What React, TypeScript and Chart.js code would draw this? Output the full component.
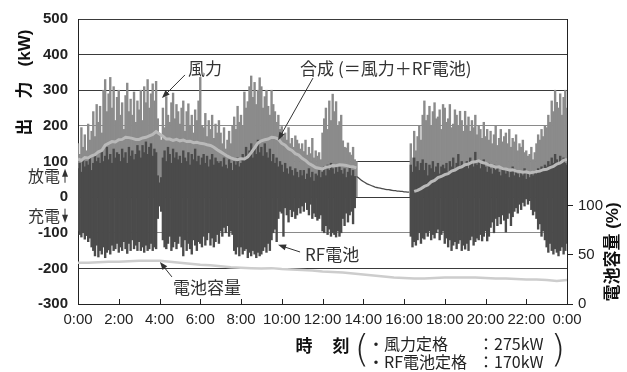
import React, { useEffect, useRef } from 'react';
import { Chart, registerables } from 'chart.js';

Chart.register(...registerables);

// ---- data -----------------------------------------------------------------
// Wind and battery are given as 5-minute peaks / ranges, the combined output
// every 10 minutes and the battery state of charge every 30 minutes.
// Times are minutes after 0:00.
const STEP_MIN = 5;
const COMBINED_STEP_MIN = 10;
const CAPACITY_STEP_MIN = 30;

// Wind output, 5-minute peaks (kW), 0:00 – 13:40
const windMorning: number[] = [
  150, 120, 195, 140, 175, 130, 205, 160, 185, 240, 170, 260,
  210, 255, 180, 300, 330, 240, 290, 336, 250, 310, 215, 280,
  300, 230, 265, 190, 285, 320, 240, 275, 230, 295, 210, 270,
  245, 300, 215, 310, 265, 330, 250, 290, 318, 270, 325, 220,
  175, 160, 250, 195, 282, 230, 210, 265, 292, 220, 260, 240,
  205, 250, 270, 185, 240, 262, 200, 230, 180, 245, 215, 270,
  336, 200, 195, 235, 170, 215, 190, 230, 165, 205, 180, 215,
  180, 150, 195, 135, 160, 185, 150, 200, 225, 190, 255, 210,
  230, 200, 295, 250, 268, 310, 340, 280, 322, 260, 300, 335,
  310, 250, 282, 300, 255, 230, 300, 260, 240, 210, 230, 190,
  198, 170, 180, 160, 195, 150, 165, 140, 172, 160, 150, 135,
  150, 128, 160, 118, 140, 122, 165, 110, 130, 115, 125, 105,
  180, 220, 250, 190, 270, 215, 289, 240, 268, 200, 212, 230,
  158, 140, 138, 152, 125, 118, 140, 105, 100,
];

// Wind output, 5-minute peaks (kW), 16:20 – 24:00
const EVENING_START = 16 * 60 + 20;
const windEvening: number[] = [
  150, 110, 185, 130, 170, 200, 160, 230,
  270, 215, 230, 255, 200, 240, 265, 220, 225, 245, 190, 260,
  250, 210, 220, 260, 195, 205, 245, 230, 200, 241, 215, 185,
  241, 200, 225, 185, 215, 195, 230, 175, 200, 190, 165, 210,
  170, 190, 160, 185, 150, 175, 200, 145, 165, 190, 155, 170,
  180, 150, 190, 140, 165, 155, 175, 130, 150, 140, 160, 125,
  130, 115, 120, 140, 105, 125, 150, 175, 160, 190, 170, 200,
  195, 230, 210, 270, 240, 300, 266, 250, 290, 230, 280, 300,
  250,
];

// RF battery output, 5-minute minimum / maximum (kW, + discharge), 0:00 – 13:35
const batteryLowMorning: number[] = [
  -95, -105, -112, -100, -118, -108, -125, -115, -140, -150, -165, -135,
  -168, -150, -160, -140, -170, -155, -148, -160, -135, -150, -145, -130,
  -155, -140, -150, -125, -145, -158, -130, -150, -120, -145, -135, -150,
  -125, -150, -140, -155, -135, -150, -145, -130, -150, -140, -145, -60,
  -25, -40, -120, -140, -145, -130, -110, -150, -140, -125, -145, -130,
  -110, -140, -165, -120, -150, -130, -145, -160, -120, -135, -150, -125,
  -130, -140, -110, -135, -120, -100, -135, -115, -140, -125, -105, -130,
  -95, -110, -85, -100, -80, -110, -95, -105, -150, -160, -140, -165,
  -140, -160, -150, -145, -170, -155, -165, -150, -160, -170, -155, -165,
  -160, -150, -140, -155, -130, -150, -120, -100, -90, -125, -60, -40,
  -45, -110, -30, -50, -70, -35, -55, -40, -60, -50, -30, -45,
  -25, -40, -15, -35, -50, -20, -60, -45, -55, -65, -60, -50,
  -95, -100, -80, -105, -90, -110, -100, -105, -112, -95, -110, -100,
  -60, -80, -45, -70, -50, -40, -75, -30,
];
const batteryHighMorning: number[] = [
  80, 95, 70, 105, 85, 100, 90, 110, 75, 95, 120, 100,
  110, 95, 130, 100, 115, 140, 105, 120, 95, 135, 110, 125,
  120, 100, 135, 110, 125, 95, 140, 115, 130, 105, 120, 145,
  130, 110, 145, 125, 155, 120, 140, 150, 115, 135, 125, 60,
  40, 55, 110, 130, 100, 140, 120, 95, 135, 110, 125, 105,
  115, 95, 130, 110, 100, 125, 90, 120, 105, 135, 100, 115,
  90, 110, 120, 95, 115, 85, 105, 120, 90, 110, 100, 95,
  100, 85, 110, 90, 80, 105, 95, 75, 100, 90, 110, 85,
  95, 120, 105, 140, 115, 130, 150, 110, 135, 120, 160, 125,
  140, 115, 150, 125, 110, 135, 100, 120, 95, 110, 85, 100,
  90, 70, 95, 80, 65, 85, 75, 60, 80, 70, 55, 75,
  60, 75, 50, 65, 80, 55, 70, 45, 65, 60, 75, 55,
  70, 85, 60, 90, 75, 95, 80, 65, 90, 70, 85, 75,
  65, 80, 55, 70, 85, 60, 75, 58,
];

// RF battery output while the turbine is stopped (kW), 13:40 – 16:15
const IDLE_START = 13 * 60 + 40;
const batteryIdle: number[] = [
  58, 55, 51, 47, 44, 41, 38, 36, 34, 32, 30, 28, 27, 26, 25, 24,
  23, 22, 21, 21, 20, 19, 18, 18, 17, 17, 16, 16, 15, 15, 14, 14,
];

// RF battery output, 5-minute minimum / maximum (kW), 16:20 – 24:00
const batteryLowEvening: number[] = [
  -110, -140, -125, -135, -120, -100, -130, -115,
  -118, -100, -110, -95, -120, -105, -115, -100, -90, -120, -105, -95,
  -130, -115, -140, -120, -150, -135, -125, -145, -130, -120, -150, -135,
  -146, -130, -150, -120, -110, -135, -125, -115, -120, -105, -123, -110,
  -95, -123, -110, -85, -70, -100, -60, -80, -55, -75, -50, -65,
  -98, -60, -45, -80, -55, -40, -30, -45, -20, -35, -15, -25,
  -5, -20, -10, -35, -50, -40, -60, -90, -75, -110, -95, -120,
  -140, -155, -130, -150, -160, -145, -155, -165, -150, -140, -160, -150,
  -130,
];
const batteryHighEvening: number[] = [
  90, 70, 110, 85, 100, 75, 95, 105,
  75, 95, 60, 90, 80, 100, 70, 85, 95, 65, 85, 90,
  80, 95, 70, 100, 85, 110, 75, 95, 120, 85, 100, 90,
  90, 100, 80, 110, 95, 85, 126, 90, 100, 80, 95, 105,
  85, 70, 95, 80, 65, 90, 75, 85, 70, 60, 80, 75,
  65, 80, 55, 70, 85, 60, 75, 65, 55, 70, 60, 80,
  50, 65, 55, 70, 60, 75, 65, 80, 70, 85, 75, 90,
  85, 100, 90, 110, 95, 120, 105, 95, 115, 100, 110, 95,
  90,
];

// Combined output = wind + RF battery (kW), 0:00 – 13:40
const combinedMorning: number[] = [
  107, 103, 111, 110, 116, 119,
  127, 131, 146, 151, 156, 155,
  161, 162, 168, 167, 165, 162,
  162, 166, 168, 172, 176, 184,
  177, 171, 163, 163, 159, 162,
  158, 160, 156, 157, 153, 154,
  151, 150, 147, 145, 140, 133,
  127, 121, 115, 110, 107, 105,
  108, 107, 113, 125, 138, 152,
  158, 161, 163, 168, 167, 163,
  151, 146, 136, 131, 122, 118,
  109, 103, 94, 89, 83, 81,
  79, 84, 85, 89, 88, 91,
  90, 89, 86, 85, 82,
];

// Combined output (kW), 16:30 – 24:00
const COMBINED_EVENING_START = 16 * 60 + 30;
const combinedEvening: number[] = [
  16, 19, 24,
  30, 34, 43, 47, 55, 58,
  63, 66, 73, 76, 82, 85,
  91, 93, 98, 99, 102, 97,
  95, 90, 88, 84, 85, 80,
  79, 76, 77, 73, 72, 70,
  71, 68, 70, 72, 73, 77,
  78, 83, 86, 93, 96, 103,
  106,
];

// Battery state of charge (%), 0:00 – 24:00
const capacity: number[] = [
  42, 42, 42.5, 43, 43, 43.5, 44, 44, 44, 43, 42, 41,
  40, 39.5, 38.5, 37.5, 37, 36.5, 36, 36.5, 35.5, 35, 34.5, 34,
  33, 32.5, 32, 31, 30, 29, 28, 27, 26.5, 26, 26, 26.5,
  27, 27, 27, 27, 26.5, 26, 26, 25.5, 25, 25, 24.5, 23.5,
  24.5,
];

const powerTicks = [-300, -200, -100, 0, 100, 200, 300, 400, 500];
const capacityTicks = [0, 50, 100];
const softGridValues = [200, -100];

// ---- helpers --------------------------------------------------------------
type Pt = { x: number; y: number | null | [number, number] };
const toPoints = (values: number[], start: number, step: number): Pt[] =>
  values.map((v, i) => ({ x: start + i * step, y: v }));
const toRanges = (lows: number[], highs: number[], start: number, step: number): Pt[] =>
  lows.map((lo, i) => ({ x: start + i * step, y: [lo, highs[i]] }));

const LATIN = "'Liberation Sans', 'Noto Sans CJK JP', sans-serif";
const JP = "'Noto Sans CJK JP', 'Liberation Sans', sans-serif";
const INK = '#222222';
const WIND_GREY = '#8b8b8b';
const BATTERY_GREY = '#4b4b4b';

function arrow(ctx: CanvasRenderingContext2D, x1: number, y1: number, x2: number, y2: number) {
  const ang = Math.atan2(y2 - y1, x2 - x1);
  const len = 8;
  const half = 3;
  ctx.beginPath();
  ctx.moveTo(x1, y1);
  ctx.lineTo(x2 - Math.cos(ang) * len * 0.7, y2 - Math.sin(ang) * len * 0.7);
  ctx.stroke();
  ctx.beginPath();
  ctx.moveTo(x2, y2);
  ctx.lineTo(x2 - Math.cos(ang) * len - Math.sin(ang) * half, y2 - Math.sin(ang) * len + Math.cos(ang) * half);
  ctx.lineTo(x2 - Math.cos(ang) * len + Math.sin(ang) * half, y2 - Math.sin(ang) * len - Math.cos(ang) * half);
  ctx.closePath();
  ctx.fill();
}

function rotatedText(ctx: CanvasRenderingContext2D, text: string, x: number, y: number, font: string) {
  ctx.save();
  ctx.translate(x, y);
  ctx.rotate(-Math.PI / 2);
  ctx.font = font;
  ctx.textAlign = 'center';
  ctx.textBaseline = 'middle';
  ctx.fillText(text, 0, 0);
  ctx.restore();
}

// Titles, callouts and the rating note drawn on top of the chart.
const decorations = {
  id: 'decorations',
  afterDraw(chart: any) {
    const { ctx, chartArea, scales } = chart;
    const px = (h: number) => scales.x.getPixelForValue(h * 60);
    const py = (v: number) => scales.y.getPixelForValue(v);
    ctx.save();
    ctx.fillStyle = INK;
    ctx.strokeStyle = INK;
    ctx.lineWidth = 1;

    // inward tick marks on the time axis
    for (let m = 120; m < 1440; m += 120) {
      const x = Math.round(scales.x.getPixelForValue(m)) + 0.5;
      ctx.beginPath();
      ctx.moveTo(x, chartArea.bottom);
      ctx.lineTo(x, chartArea.bottom - 5);
      ctx.stroke();
    }

    // axis titles
    ctx.fillStyle = '#111';
    const titleFont = `bold 17px ${LATIN}`;
    rotatedText(ctx, '出', 25, 127, titleFont);
    rotatedText(ctx, '力', 25, 90, titleFont);
    rotatedText(ctx, '(kW)', 25, 48, titleFont);
    rotatedText(ctx, '電池容量 (%)', 613, 252, titleFont);

    ctx.font = titleFont;
    ctx.textAlign = 'center';
    ctx.textBaseline = 'middle';
    ctx.fillText('時', 304, 347);
    ctx.fillText('刻', 341, 347);

    // discharge / charge markers beside the zero line
    ctx.fillStyle = '#333';
    ctx.strokeStyle = '#333';
    ctx.font = `16px ${JP}`;
    ctx.textAlign = 'right';
    ctx.fillText('放電', 60, py(60));
    ctx.fillText('充電', 60, py(-52));
    arrow(ctx, 65, py(60) + 7, 65, py(60) - 7);
    arrow(ctx, 65, py(-52) - 7, 65, py(-52) + 7);

    // callouts
    ctx.font = `17px ${JP}`;
    ctx.textAlign = 'left';
    const callouts: [string, number, number, number, number, number, number][] = [
      ['風力', 5.4, 362, 5.25, 343, 4.12, 278],
      ['合成 (＝風力＋RF電池)', 10.9, 360, 11.53, 334, 9.82, 160],
      ['RF電池', 11.14, -162, 10.9, -154, 9.82, -134],
      ['電池容量', 4.66, -255, 4.61, -224, 4.02, -182],
    ];
    for (const [text, lh, lv, fh, fv, th, tv] of callouts) {
      ctx.fillText(text, px(lh), py(lv));
      arrow(ctx, px(fh), py(fv), px(th), py(tv));
    }

    // rating note
    ctx.fillStyle = INK;
    ctx.font = `200 38px 'DejaVu Sans', ${JP}`;
    ctx.textAlign = 'center';
    ctx.fillText('(', 362, 351);
    ctx.fillText(')', 558, 351);
    ctx.font = `16px ${JP}`;
    ctx.textAlign = 'left';
    ctx.fillText('・風力定格', 368, 344);
    ctx.fillText('：275kW', 478, 344);
    ctx.fillText('・RF電池定格', 368, 362);
    ctx.fillText('：170kW', 478, 362);

    ctx.restore();
  },
};

export default function App() {
  const canvasRef = useRef<HTMLCanvasElement | null>(null);

  useEffect(() => {
    const canvas = canvasRef.current;
    if (!canvas) return;

    const bars = (label: string, data: Pt[], colour: string, order: number) => ({
      type: 'bar' as const,
      label,
      data: data as any,
      backgroundColor: colour,
      borderWidth: 0,
      barPercentage: 1,
      categoryPercentage: 1,
      grouped: false,
      inflateAmount: 0.35,
      order,
      yAxisID: 'y',
    });

    const combinedData: Pt[] = [
      ...toPoints(combinedMorning, 0, COMBINED_STEP_MIN),
      { x: 14 * 60, y: null },
      ...toPoints(combinedEvening, COMBINED_EVENING_START, COMBINED_STEP_MIN),
    ];

    const chart = new Chart(canvas, {
      type: 'line',
      data: {
        datasets: [
          bars('風力', toPoints(windMorning, 0, STEP_MIN), WIND_GREY, 6),
          bars('風力', toPoints(windEvening, EVENING_START, STEP_MIN), WIND_GREY, 6),
          bars('RF電池', toRanges(batteryLowMorning, batteryHighMorning, 0, STEP_MIN), BATTERY_GREY, 5),
          bars('RF電池', toRanges(batteryLowEvening, batteryHighEvening, EVENING_START, STEP_MIN), BATTERY_GREY, 5),
          {
            label: 'RF電池',
            data: toPoints(batteryIdle, IDLE_START, STEP_MIN) as any,
            borderColor: BATTERY_GREY,
            borderWidth: 1.3,
            order: 4,
            yAxisID: 'y',
          },
          { label: '合成', data: combinedData as any, borderColor: '#b9b9b9', borderWidth: 3, order: 2, yAxisID: 'y' },
          {
            label: '電池容量',
            data: toPoints(capacity, 0, CAPACITY_STEP_MIN) as any,
            borderColor: '#cdcdcd',
            borderWidth: 2.5,
            order: 1,
            yAxisID: 'y2',
          },
        ] as any,
      },
      options: {
        responsive: false,
        animation: false,
        events: [],
        layout: { padding: { top: 19, left: 0, right: 0, bottom: 0 } },
        elements: { point: { radius: 0 }, line: { tension: 0, fill: false } },
        plugins: { legend: { display: false }, tooltip: { enabled: false } },
        scales: {
          x: {
            type: 'linear',
            min: 0,
            max: 1440,
            offset: false,
            afterFit: (s: any) => { s.height = 68; },
            ticks: {
              stepSize: 120,
              autoSkip: false,
              maxRotation: 0,
              padding: 7,
              color: INK,
              font: { family: LATIN, size: 15 },
              callback: (v: any) => `${(Number(v) / 60) % 24}:00`,
            },
            grid: { drawOnChartArea: false, drawTicks: false, offset: false },
            border: { display: true, color: INK, width: 1 },
          },
          y: {
            type: 'linear',
            min: -300,
            max: 500,
            afterFit: (s: any) => { s.width = 78; },
            afterBuildTicks: (s: any) => { s.ticks = powerTicks.map((value) => ({ value })); },
            ticks: {
              padding: 10,
              color: INK,
              font: { family: LATIN, size: 15, weight: 'bold' },
              callback: (v: any) => String(v),
            },
            grid: {
              drawTicks: false,
              lineWidth: 1,
              color: (c: any) => (softGridValues.includes(c.tick?.value) ? '#8a8a8a' : '#3a3a3a'),
            },
            border: { display: true, color: INK, width: 1 },
          },
          y2: {
            type: 'linear',
            position: 'right',
            min: 0,
            max: 290,
            afterFit: (s: any) => { s.width = 60; },
            afterBuildTicks: (s: any) => { s.ticks = capacityTicks.map((value) => ({ value })); },
            ticks: {
              padding: 5,
              color: INK,
              font: { family: LATIN, size: 15 },
              callback: (v: any) => String(v),
            },
            grid: { drawOnChartArea: false, drawTicks: true, tickLength: 6, color: INK },
            border: { display: true, color: INK, width: 1 },
          },
        },
      } as any,
      plugins: [decorations],
    });

    return () => chart.destroy();
  }, []);

  return (
    <div style={{ position: 'absolute', left: 0, top: 0, width: 627, height: 372, background: '#fff' }}>
      <canvas ref={canvasRef} width={627} height={372} style={{ display: 'block' }} />
    </div>
  );
}
